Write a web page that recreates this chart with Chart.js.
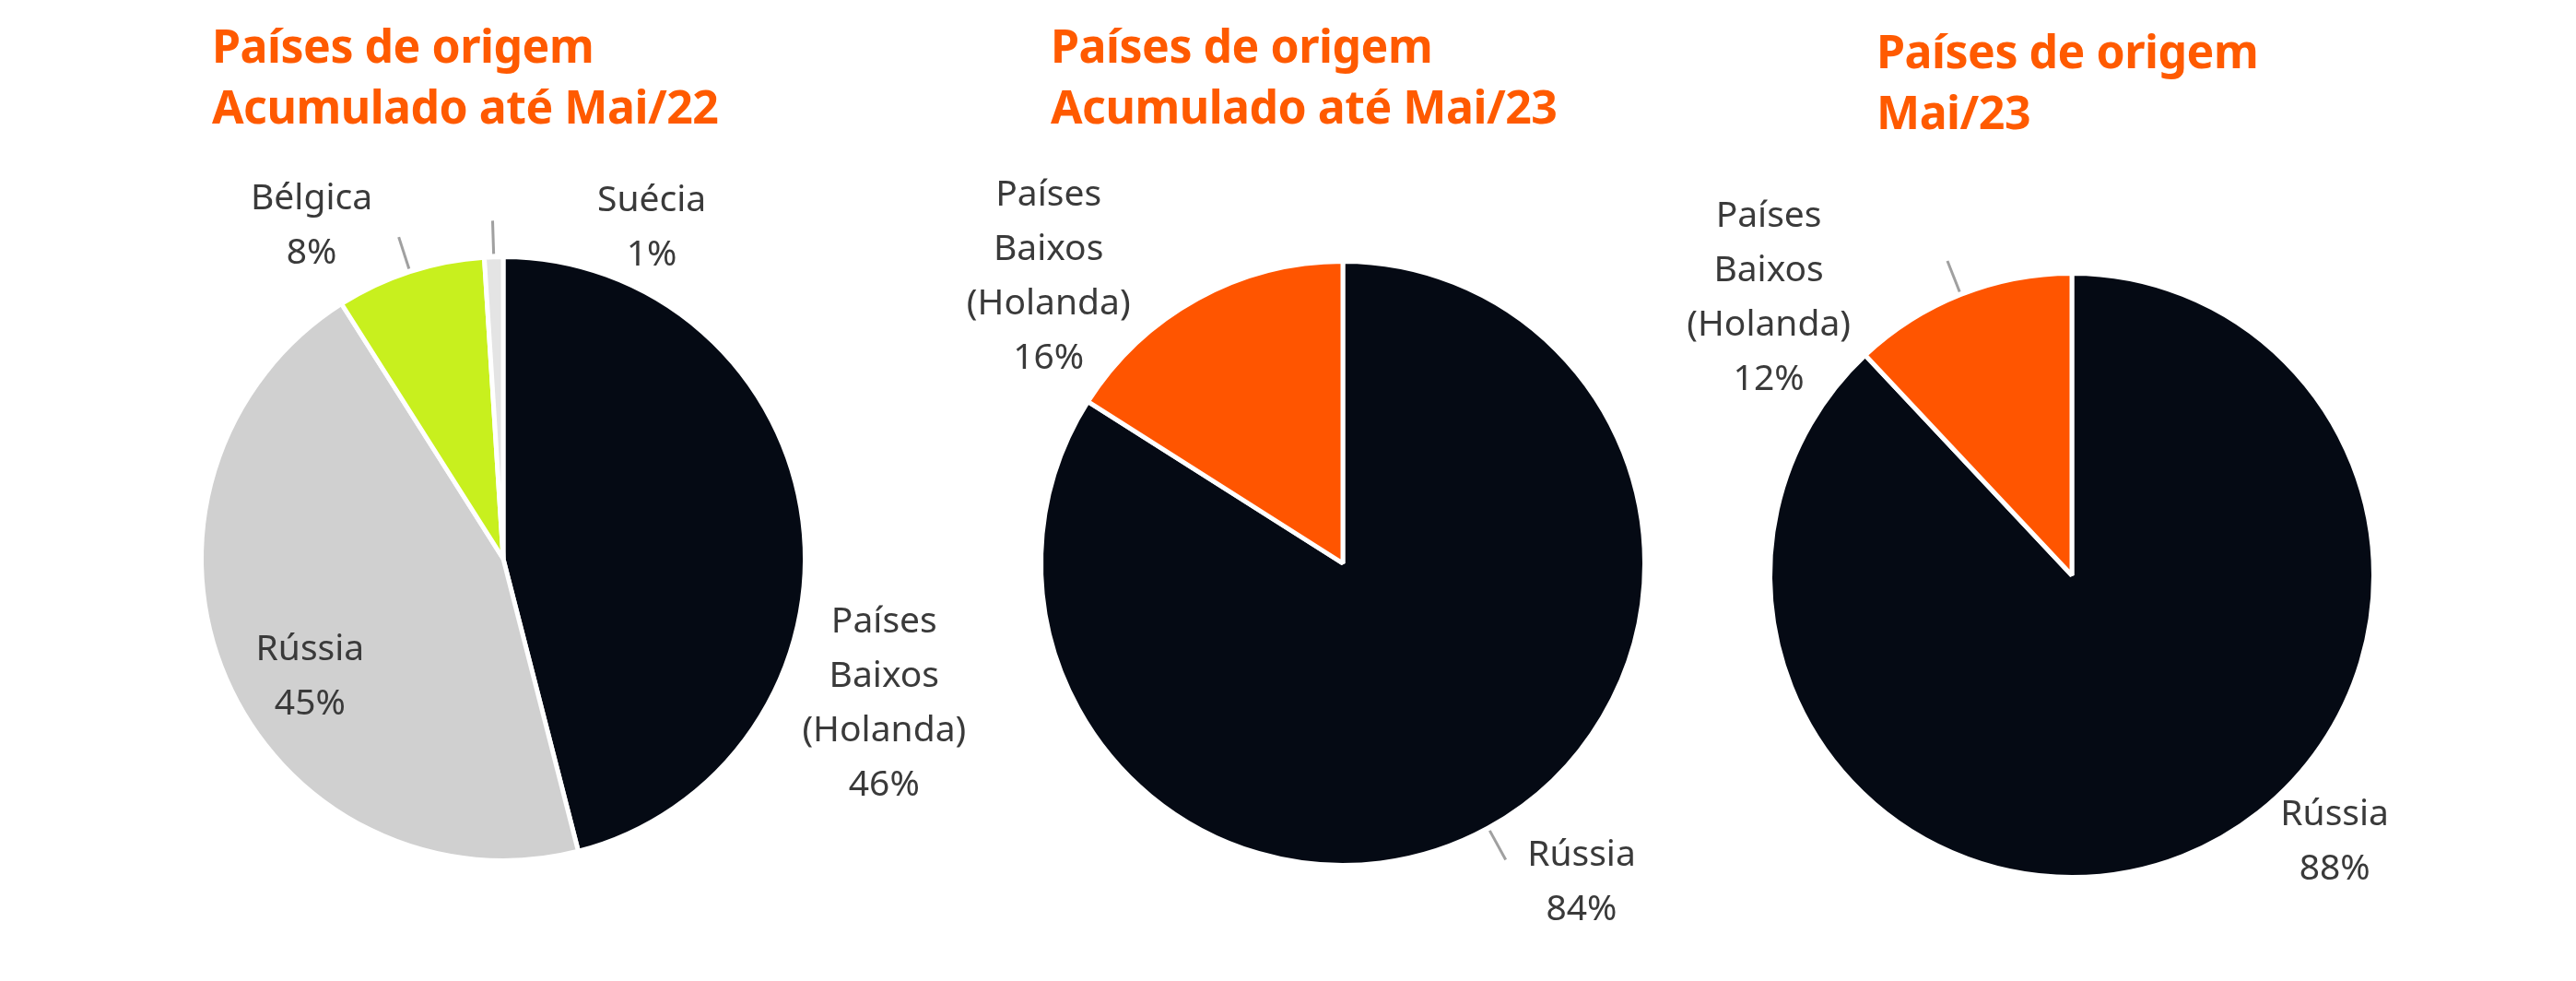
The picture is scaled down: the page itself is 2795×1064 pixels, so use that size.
<!DOCTYPE html>
<html>
<head>
<meta charset="utf-8">
<script src="https://cdn.jsdelivr.net/npm/chart.js@4"></script>
<style>
  body { margin: 0; width: 2795px; height: 1064px; background: #fff; position: relative; overflow: hidden; font-family: "Noto Sans", sans-serif; }
  .title { position: absolute; color: #FF5A00; font-weight: bold; font-size: 50px; line-height: 66px; letter-spacing: -0.5px; }
  canvas { position: absolute; top: 0; }
</style>
</head>
<body>
<div class="title" style="left:230px;top:16px">Países de origem<br>Acumulado até Mai/22</div>
<div class="title" style="left:1140px;top:16px">Países de origem<br>Acumulado até Mai/23</div>
<div class="title" style="left:2036px;top:22px">Países de origem<br>Mai/23</div>
<canvas id="pie1"></canvas>
<canvas id="pie2"></canvas>
<canvas id="pie3"></canvas>
<script>
// dados
const labels1 = [['Países', 'Baixos', '(Holanda)'], ['Rússia'], ['Bélgica'], ['Suécia']];
const values1 = [46, 45, 8, 1];
const labels2 = [['Rússia'], ['Países', 'Baixos', '(Holanda)']];
const values2 = [84, 16];
const labels3 = [['Rússia'], ['Países', 'Baixos', '(Holanda)']];
const values3 = [88, 12];

const colors1 = ['#050A14', '#D0D0D0', '#C8F01E', '#E4E4E4'];
const colors2 = ['#050A14', '#FF5500'];

// posição do rótulo: desvio de ângulo (graus) e distância (em raios)
const place1 = [{ da: 28, f: 1.35 }, { da: -8, f: 0.75 }, { da: -12, f: 1.27, leader: true }, { da: 26, f: 1.2, leader: true }];
const place2 = [{ da: -8, f: 1.32, leader: true }, { da: -17, f: 1.36 }];
const place3 = [{ da: -23, f: 1.24 }, { da: -26, f: 1.36, leader: true }];

const sliceLabels = {
    id: 'sliceLabels',
    afterDraw(chart, args, opts) {
        const ctx = chart.ctx;
        const meta = chart.getDatasetMeta(0);
        const vals = chart.data.datasets[0].data;
        meta.data.forEach((arc, i) => {
            const p = opts.place[i];
            const mid = (arc.startAngle + arc.endAngle) / 2;
            const a = mid + p.da * Math.PI / 180;
            const r = arc.outerRadius;
            const x = arc.x + Math.cos(a) * r * p.f;
            const y = arc.y + Math.sin(a) * r * p.f;
            const lines = chart.data.labels[i].concat([vals[i] + '%']);
            const lh = 59;
            ctx.save();
            if (p.leader) {
                ctx.strokeStyle = '#A0A0A0';
                ctx.lineWidth = 3;
                ctx.beginPath();
                ctx.moveTo(arc.x + Math.cos(mid) * r * 1.01, arc.y + Math.sin(mid) * r * 1.01);
                ctx.lineTo(arc.x + Math.cos(mid) * r * 1.12, arc.y + Math.sin(mid) * r * 1.12);
                ctx.stroke();
            }
            ctx.fillStyle = '#3A3A3A';
            ctx.font = '39px "Noto Sans"';
            ctx.textAlign = 'center';
            ctx.textBaseline = 'middle';
            lines.forEach((t, k) => {
                ctx.fillText(t, x, y + (k - (lines.length - 1) / 2) * lh);
            });
            ctx.restore();
        });
    }
};

function makePie(id, cx, cy, labels, values, colors, place) {
    const W = 1100, H = 1064, R = 330;
    const el = document.getElementById(id);
    el.style.left = (cx - W / 2) + 'px';
    el.width = W;
    el.height = H;
    new Chart(el, {
        type: 'pie',
        data: {
            labels: labels,
            datasets: [{ data: values, backgroundColor: colors, borderColor: '#fff', borderWidth: 5 }]
        },
        options: {
            responsive: false,
            animation: false,
            layout: { padding: { top: cy - R, bottom: H - cy - R, left: W / 2 - R, right: W / 2 - R } },
            plugins: { legend: { display: false }, tooltip: { enabled: false }, sliceLabels: { place: place } }
        },
        plugins: [sliceLabels]
    });
}

makePie('pie1', 546, 606, labels1, values1, colors1, place1);
makePie('pie2', 1457, 611, labels2, values2, colors2, place2);
makePie('pie3', 2248, 624, labels3, values3, colors2, place3);
</script>
</body>
</html>
